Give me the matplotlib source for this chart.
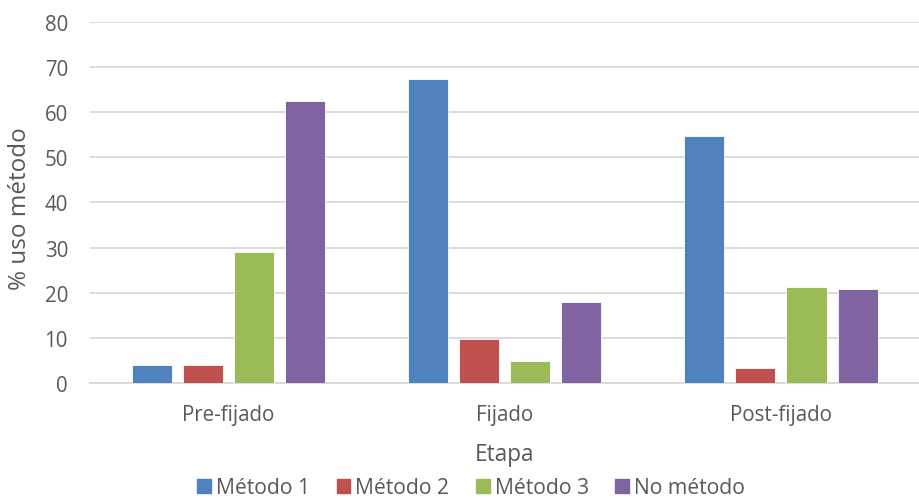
import numpy as np
import matplotlib.pyplot as plt
from matplotlib.patches import Patch

plt.rcParams['font.family'] = ['Open Sans', 'DejaVu Sans']

etapas = ['Pre-fijado', 'Fijado', 'Post-fijado']
series = ['Método 1', 'Método 2', 'Método 3', 'No método']
metodo1 = [4.1, 67.3, 54.6]
metodo2 = [4.1, 9.8, 3.3]
metodo3 = [29.1, 4.9, 21.2]
no_metodo = [62.5, 18.0, 20.8]
colores = ['#4F81BD', '#C0504D', '#9BBB59', '#8064A2']
gris = '#595959'

fig = plt.figure(figsize=(9.2, 5.02), dpi=100)
ax = fig.add_axes([0.098, 0.2345, 0.901, 0.7203])

x = np.arange(len(etapas))
step = 0.185
width = 0.145
for i, (vals, c) in enumerate(zip([metodo1, metodo2, metodo3, no_metodo], colores)):
    ax.bar(x + (i - 1.5) * step, vals, width, color=c, edgecolor='white',
           linewidth=0.6, zorder=3)

ax.set_xlim(-0.5, 2.5)
ax.set_ylim(0, 80)
ax.set_yticks(range(0, 81, 10))
ax.set_xticks(x)
ax.set_xticklabels(etapas)
ax.grid(axis='y', color='#D9D9D9', linewidth=1.3, zorder=0)
for s in ['top', 'right', 'left']:
    ax.spines[s].set_visible(False)
ax.spines['bottom'].set_color('#D9D9D9')
ax.spines['bottom'].set_linewidth(1.3)
ax.tick_params(axis='both', length=0, labelsize=14.8, colors=gris)
ax.tick_params(axis='y', pad=16)
ax.tick_params(axis='x', pad=15)
ax.set_xlabel('Etapa', fontsize=16.3, color=gris, labelpad=12)
ax.set_ylabel('% uso método', fontsize=17.5, color=gris)
ax.yaxis.set_label_coords(-0.07, 0.485)

handles = [Patch(color=c) for c in colores]
fig.legend(handles, series, loc='center', bbox_to_anchor=(0.512, 0.026),
           ncol=4, frameon=False, fontsize=15.2, labelcolor=gris,
           handlelength=0.66, handleheight=0.66, handletextpad=0.23,
           columnspacing=1.25, borderpad=0.2)

plt.savefig('out.png')
